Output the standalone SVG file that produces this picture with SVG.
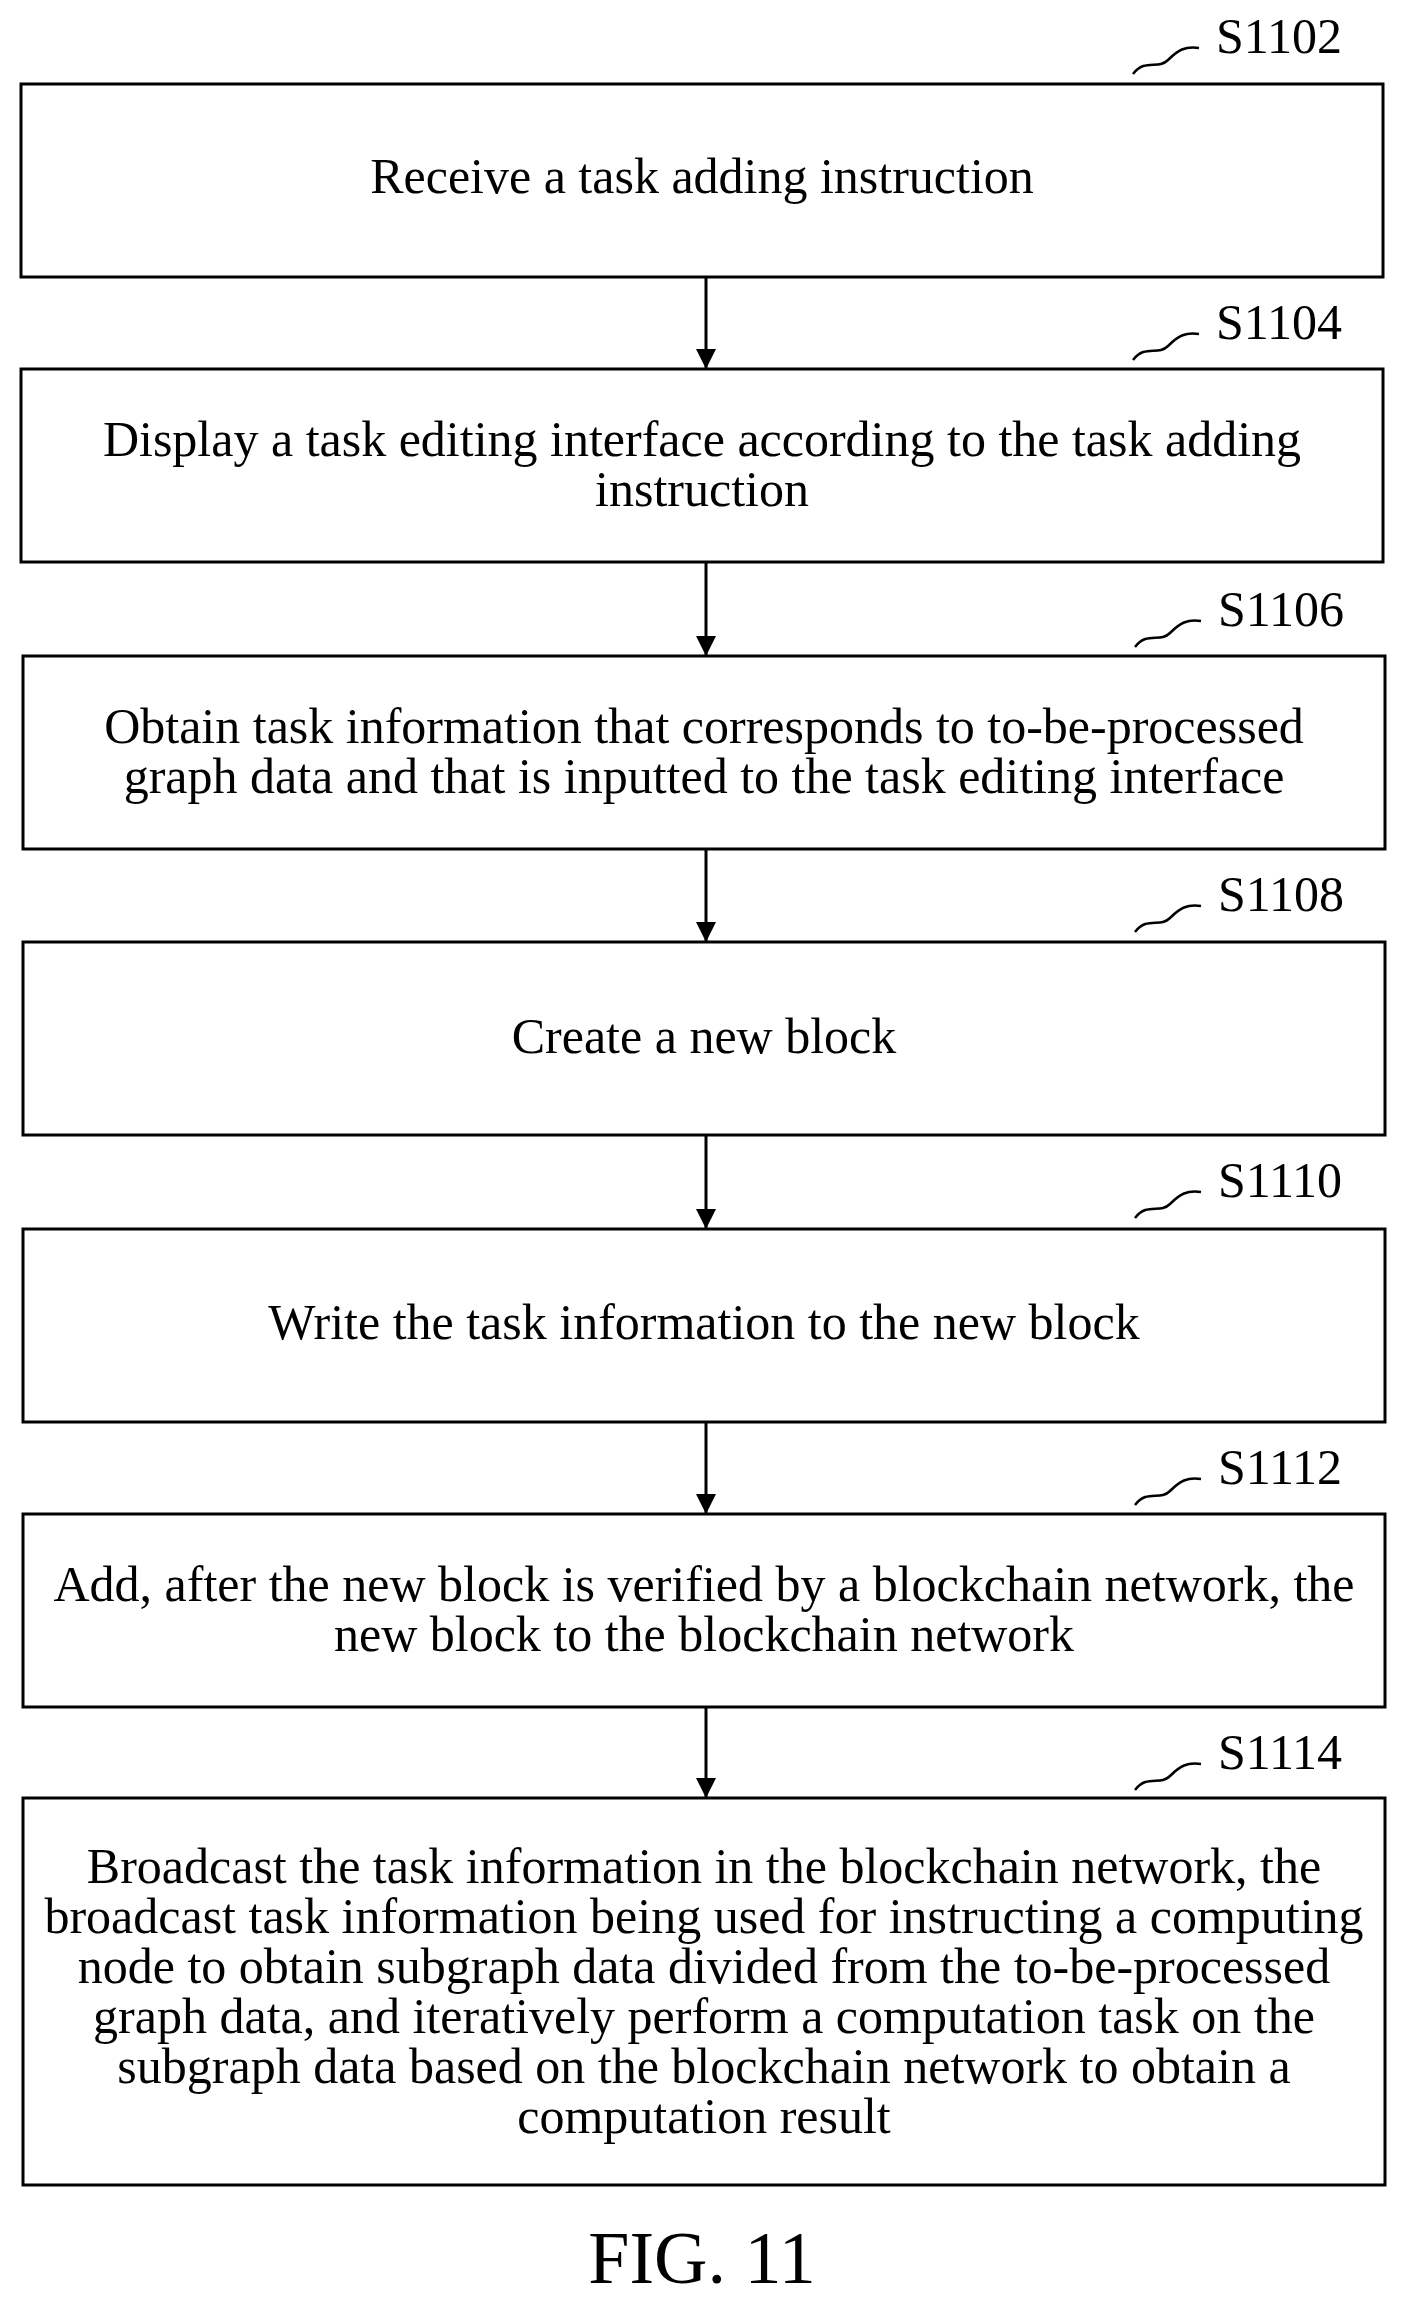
<svg xmlns="http://www.w3.org/2000/svg" width="1404" height="2303" viewBox="0 0 1404 2303">
<style>
.b{fill:#fff;stroke:#000;stroke-width:3}
.t{font-family:"Liberation Serif",serif;font-size:50px;text-anchor:middle;fill:#000}
.l{font-family:"Liberation Serif",serif;font-size:50px;fill:#000}
.s{fill:none;stroke:#000;stroke-width:2.5}
.c{stroke:#000;stroke-width:3;fill:none}
</style>
<defs>
<marker id="ah" viewBox="0 0 10 10" refX="10" refY="5" markerWidth="20" markerHeight="26" orient="auto" markerUnits="userSpaceOnUse"><path d="M0,0 L10,5 L0,10 z" fill="#000"/></marker></defs>
<rect width="1404" height="2303" fill="#fff"/>
<g id="connectors">
<line class="c" x1="706" y1="277" x2="706" y2="369" marker-end="url(#ah)"/>
<line class="c" x1="706" y1="562" x2="706" y2="656" marker-end="url(#ah)"/>
<line class="c" x1="706" y1="849" x2="706" y2="942" marker-end="url(#ah)"/>
<line class="c" x1="706" y1="1135" x2="706" y2="1229" marker-end="url(#ah)"/>
<line class="c" x1="706" y1="1422" x2="706" y2="1514" marker-end="url(#ah)"/>
<line class="c" x1="706" y1="1707" x2="706" y2="1798" marker-end="url(#ah)"/>
</g>
<g id="S1102"><rect class="b" x="21" y="84" width="1362" height="193"/><text class="t" x="702" y="193">Receive a task adding instruction</text><path class="s" d="M1133,74 C1145,58 1158,70 1168,60 S1185,46 1199,48"/><text class="l" x="1216" y="53">S1102</text></g>
<g id="S1104"><rect class="b" x="21" y="369" width="1362" height="193"/><text class="t" x="702" y="456">Display a task editing interface according to the task adding</text><text class="t" x="702" y="506">instruction</text><path class="s" d="M1133,360 C1145,344 1158,356 1168,346 S1185,332 1199,334"/><text class="l" x="1216" y="339">S1104</text></g>
<g id="S1106"><rect class="b" x="23" y="656" width="1362" height="193"/><text class="t" x="704" y="743">Obtain task information that corresponds to to-be-processed</text><text class="t" x="704" y="793">graph data and that is inputted to the task editing interface</text><path class="s" d="M1135,647 C1147,631 1160,643 1170,633 S1187,619 1201,621"/><text class="l" x="1218" y="626">S1106</text></g>
<g id="S1108"><rect class="b" x="23" y="942" width="1362" height="193"/><text class="t" x="704" y="1053">Create a new block</text><path class="s" d="M1135,932 C1147,916 1160,928 1170,918 S1187,904 1201,906"/><text class="l" x="1218" y="911">S1108</text></g>
<g id="S1110"><rect class="b" x="23" y="1229" width="1362" height="193"/><text class="t" x="704" y="1339">Write the task information to the new block</text><path class="s" d="M1135,1218 C1147,1202 1160,1214 1170,1204 S1187,1190 1201,1192"/><text class="l" x="1218" y="1197">S1110</text></g>
<g id="S1112"><rect class="b" x="23" y="1514" width="1362" height="193"/><text class="t" x="704" y="1601">Add, after the new block is verified by a blockchain network, the</text><text class="t" x="704" y="1651">new block to the blockchain network</text><path class="s" d="M1135,1505 C1147,1489 1160,1501 1170,1491 S1187,1477 1201,1479"/><text class="l" x="1218" y="1484">S1112</text></g>
<g id="S1114"><rect class="b" x="23" y="1798" width="1362" height="387"/>
<text class="t" x="704" y="1883">Broadcast the task information in the blockchain network, the</text>
<text class="t" x="704" y="1933">broadcast task information being used for instructing a computing</text>
<text class="t" x="704" y="1983">node to obtain subgraph data divided from the to-be-processed</text>
<text class="t" x="704" y="2033">graph data, and iteratively perform a computation task on the</text>
<text class="t" x="704" y="2083">subgraph data based on the blockchain network to obtain a</text>
<text class="t" x="704" y="2133">computation result</text>
<path class="s" d="M1135,1790 C1147,1774 1160,1786 1170,1776 S1187,1762 1201,1764"/><text class="l" x="1218" y="1769">S1114</text></g>
<text x="702" y="2283" font-family="Liberation Serif,serif" font-size="74" text-anchor="middle">FIG. 11</text>
</svg>
